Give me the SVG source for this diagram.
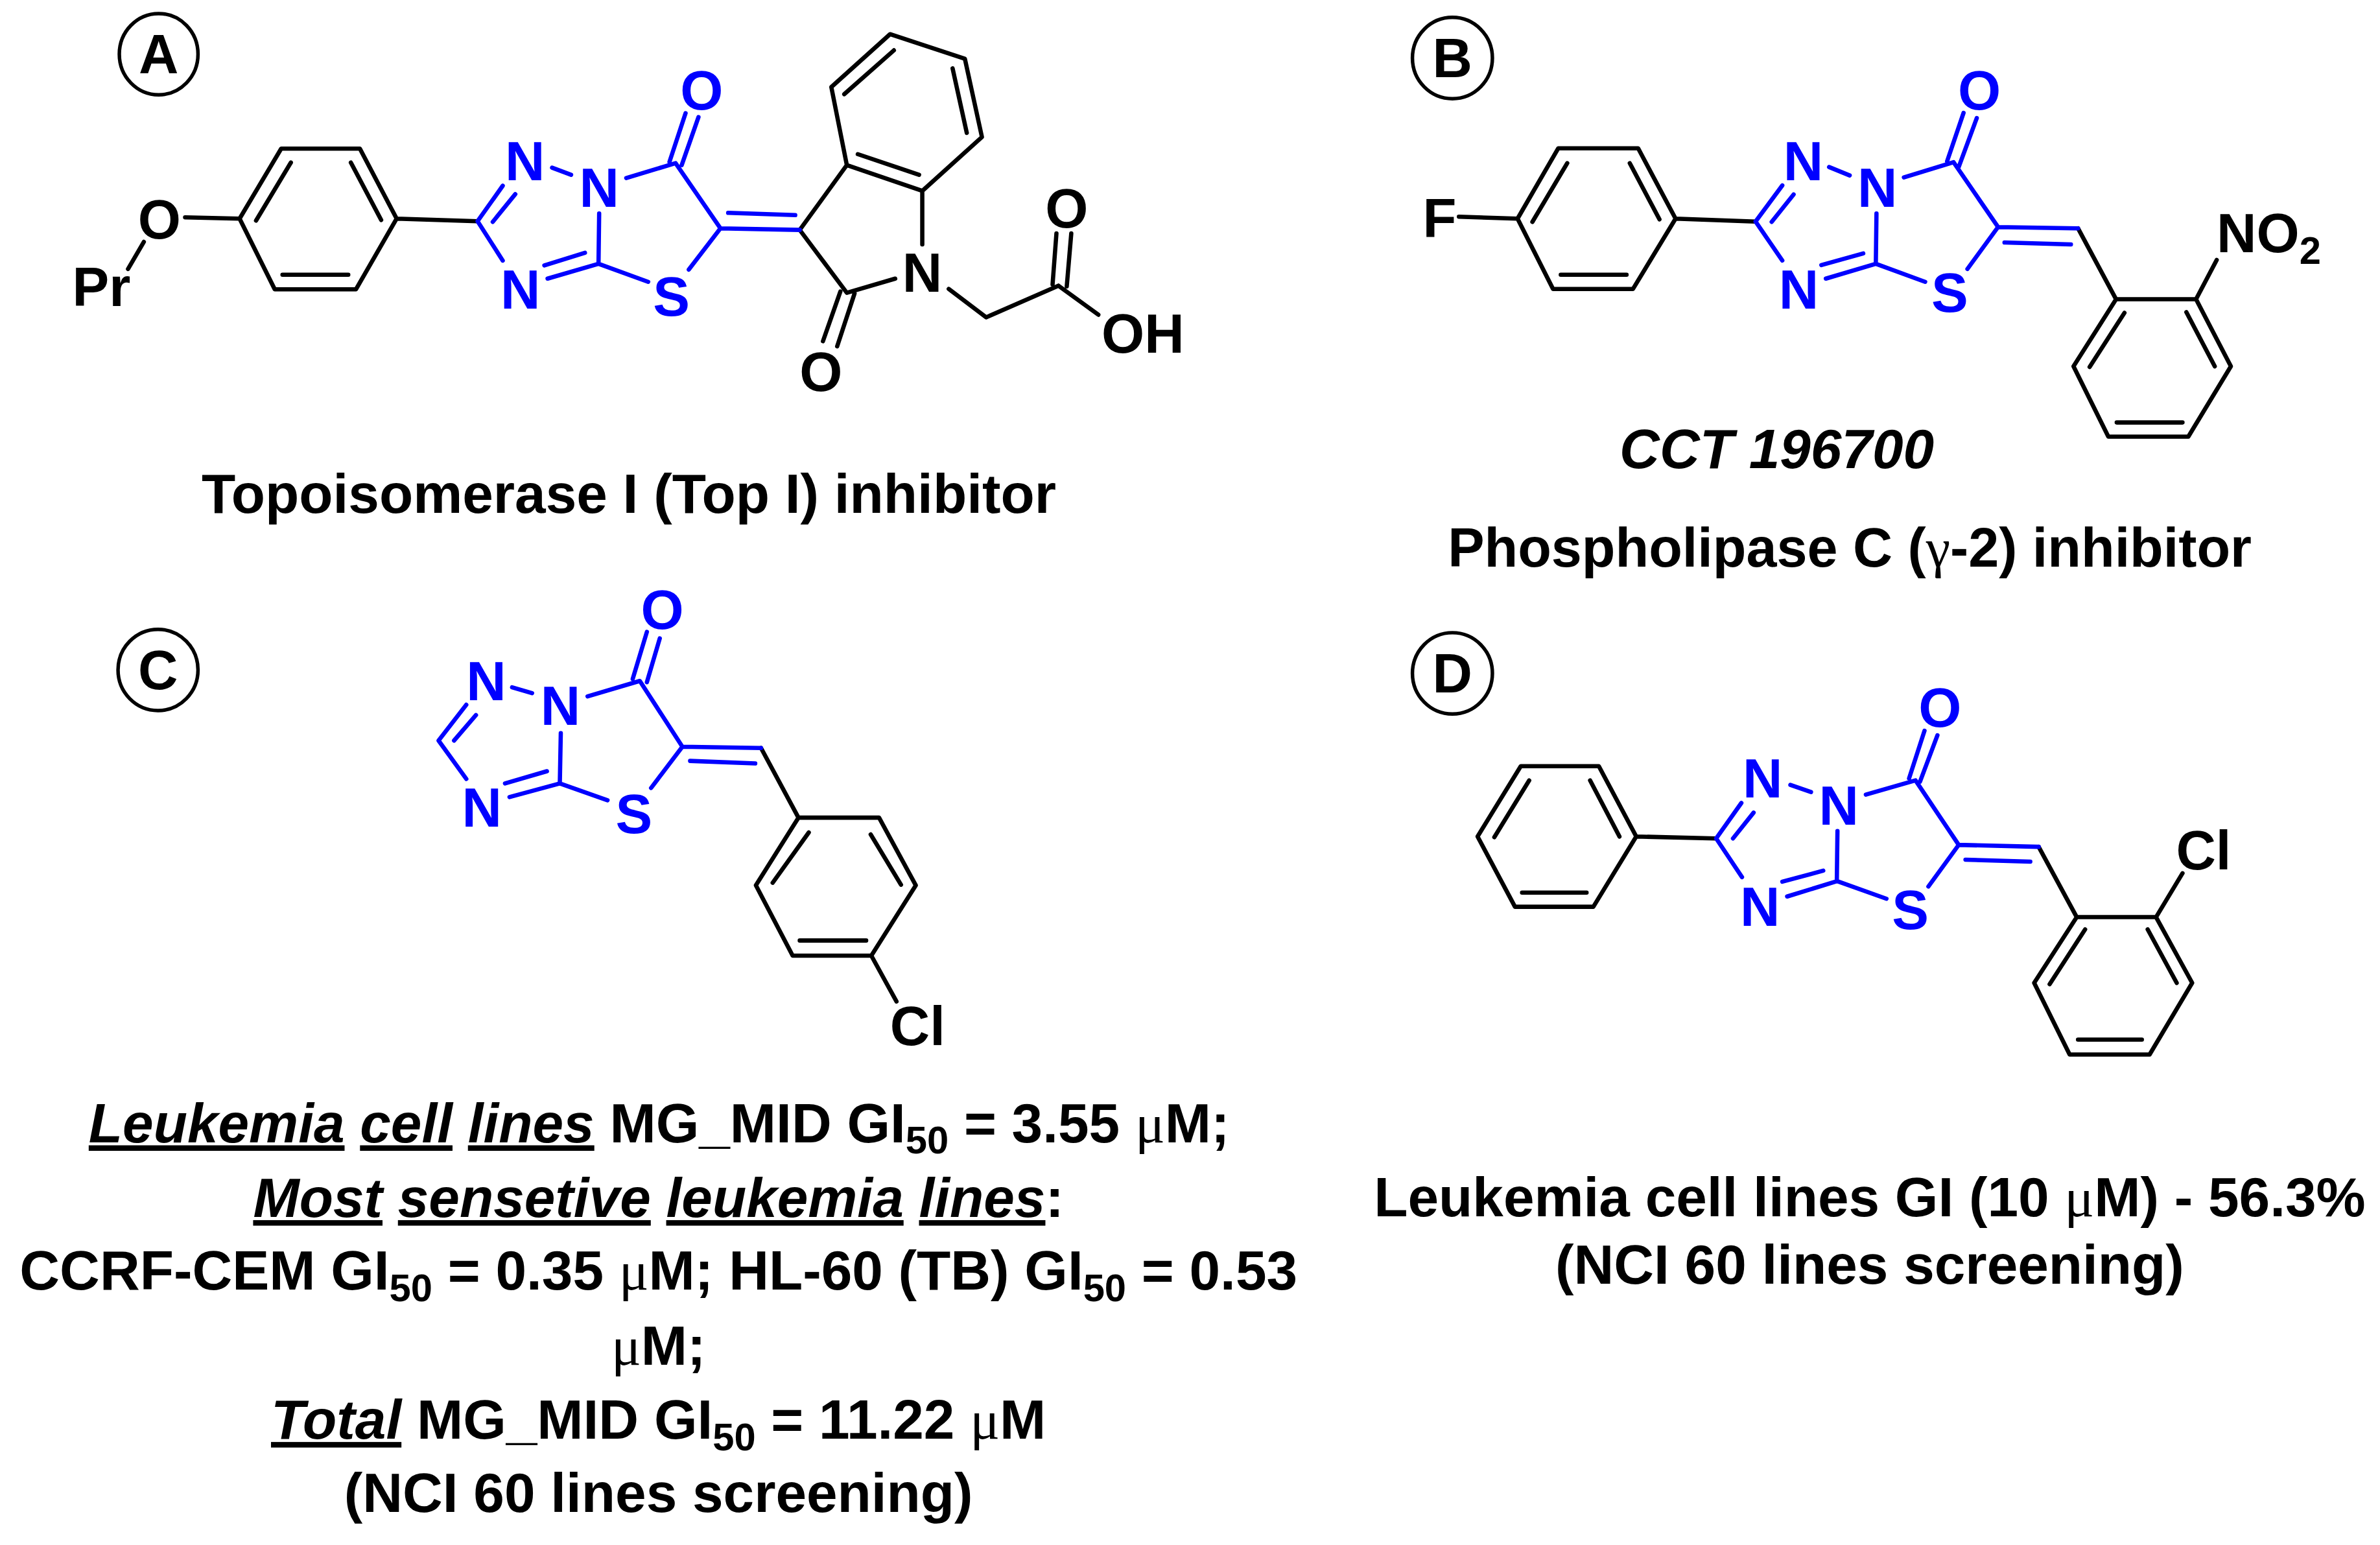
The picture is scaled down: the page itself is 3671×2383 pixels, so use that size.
<svg xmlns="http://www.w3.org/2000/svg" width="3671" height="2383" viewBox="0 0 3671 2383">
<style>
text{font-family:"Liberation Sans",Arial,sans-serif;font-weight:700;font-size:85.5px;fill:#000}
.c{text-anchor:middle}
.b{fill:#0000ff}
.cap{font-size:86px}
.i{font-style:italic}
.u{font-style:italic;text-decoration:underline}
.m{font-family:"Liberation Serif","DejaVu Serif",serif;font-weight:400}
.s{font-size:60px}
.k{fill:none;stroke:#000;stroke-width:6.6;stroke-linecap:round;stroke-linejoin:round}
.l{fill:none;stroke:#0000ff;stroke-width:6.6;stroke-linecap:round;stroke-linejoin:round}
.o{fill:none;stroke:#000;stroke-width:5.5}
</style>
<rect width="3671" height="2383" fill="#fff"/>

<g id="panel-a" transform="scale(.9948)">
<ellipse class="o" cx="246" cy="84" rx="61" ry="63"/>
<text class="c" x="246" y="114">A</text>
<g id="bonds-a">
<path class="k" d="M436 230.5H558L615 339L552 448.5H426L371.5 339ZM451 252L397 342M544 252L591 341M438 426H540M287 337L371.5 339M223 375L198.5 417M615 339L740.5 343M1240 356.5L1313 256L1289 135L1380 53L1496 91L1522.5 212.5L1430 296L1313 256M1309 146L1386 78M1477 106L1499 206M1330 239L1425 271M1430 296V379M1388 432L1313 454L1240 356.5M1303 452L1276 529M1325 455L1298 537M1471 448L1529 492L1641 443M1638 362L1632 441M1661 362L1654 444M1641 443L1703 488"/>
<path class="l" d="M740.5 343L779.5 288M764 344L799 301M856 260L885.5 271M740.5 343L779.5 404M849 432L928 409M844 411.5L907 392M929 331L928 409L1005 437M1068 418L1117 354M971 276L1047.5 253L1117 354M1038 251L1063 175.5M1057 256L1083 181.5M1117 354L1240 356.5M1129 330L1233 333.5"/>
</g>
<text class="c" x="247" y="370">O</text>
<text x="112" y="474">Pr</text>
<text class="c b" x="814" y="279">N</text>
<text class="c b" x="929" y="321">N</text>
<text class="c b" x="807" y="478">N</text>
<text class="c b" x="1041" y="490">S</text>
<text class="c b" x="1088" y="170">O</text>
<text class="c" x="1430" y="452">N</text>
<text class="c" x="1273" y="606">O</text>
<text class="c" x="1654" y="353">O</text>
<text x="1708" y="547">OH</text>
<text class="c cap" x="975" y="795">Topoisomerase I (Top I) inhibitor</text>
</g>

<g id="panel-b" transform="translate(10.92 0) scale(.9948)">
<ellipse class="o" cx="2241" cy="90" rx="62" ry="63"/>
<text class="c" x="2241" y="120">B</text>
<g id="bonds-b">
<path class="k" d="M2405 230H2529L2587 339L2521 448H2397L2342 339ZM2419 253L2365 344M2516 253L2562 340M2409 426H2511M2251 336L2342 339M2587 339L2711 343.5M3211 354L3270 464H3394L3448 568L3382 677H3258L3204 568L3270 464M3283 485L3229 569M3379 484L3423 568M3271 655H3373M3394 464L3426 403"/>
<path class="l" d="M2711 343.5L2752.5 287.5M2736 344L2770 301.5M2825 259L2857 272M2711 343.5L2752.5 404M2820 432L2897.5 409M2813 411L2878 393M2898.5 331L2897.5 409L2974 437M3039.5 417L3087 352M2941 275L3018 251.5L3087 352M3008 250L3033.5 175M3026 259L3054 183M3087 352L3211 354M3097 376L3200 379"/>
</g>
<text x="2195" y="368">F</text>
<text class="c b" x="2785" y="279">N</text>
<text class="c b" x="2900" y="321">N</text>
<text class="c b" x="2778" y="478">N</text>
<text class="c b" x="3012" y="484">S</text>
<text class="c b" x="3058" y="170">O</text>
<text x="3426" y="391">NO<tspan class="s" dy="18">2</tspan></text>
<text class="c cap i" x="2744" y="726">CCT 196700</text>
<text class="c cap" x="2857" y="879" style="font-size:85px">Phospholipase C (<tspan class="m">γ</tspan>-2) inhibitor</text>
</g>

<g id="panel-c" transform="translate(0 5.7) scale(.9948)">
<ellipse class="o" cx="245" cy="1033" rx="62" ry="63"/>
<text class="c" x="245" y="1063">C</text>
<g id="bonds-c">
<path class="k" d="M1180 1154L1238 1262H1363L1420 1367L1351 1476H1229L1172 1367L1238 1262M1254 1285L1198 1363M1350 1288L1397 1366M1240 1452.5H1343M1351 1476L1390 1547"/>
<path class="l" d="M981 1047L1003 974M1003 1052L1023 984M794 1060L825 1069M911 1074L992 1050L1058 1152M723 1087L680 1142.5L723 1202M704 1142.5L738 1103M790 1230L868 1209M783 1209L848 1190M869.5 1131L868 1209L942 1235M1009.5 1216L1058 1152L1180 1154M1070 1174L1171 1178"/>
</g>
<text class="c b" x="1027" y="969">O</text>
<text class="c b" x="869" y="1118">N</text>
<text class="c b" x="754" y="1080">N</text>
<text class="c b" x="747" y="1276">N</text>
<text class="c b" x="983" y="1286">S</text>
<text x="1380" y="1615">Cl</text>
<text class="c cap" x="1022" y="1765"><tspan class="u">Leukemia</tspan> <tspan class="u">cell</tspan> <tspan class="u">lines</tspan> MG_MID GI<tspan class="s" dy="18">50</tspan><tspan dy="-18"> = 3.55 </tspan><tspan class="m">μ</tspan>M;</text>
<text class="c cap" x="1021" y="1881"><tspan class="u">Most</tspan> <tspan class="u">sensetive</tspan> <tspan class="u">leukemia</tspan> <tspan class="u">lines</tspan>:</text>
<text class="c cap" x="1021" y="1994">CCRF-CEM GI<tspan class="s" dy="18">50</tspan><tspan dy="-18"> = 0.35 </tspan><tspan class="m">μ</tspan>M; HL-60 (TB) GI<tspan class="s" dy="18">50</tspan><tspan dy="-18"> = 0.53</tspan></text>
<text class="c cap" x="1021" y="2110"><tspan class="m">μ</tspan>M;</text>
<text class="c cap" x="1021" y="2225"><tspan class="u">Total</tspan> MG_MID GI<tspan class="s" dy="18">50</tspan><tspan dy="-18"> = 11.22 </tspan><tspan class="m">μ</tspan>M</text>
<text class="c cap" x="1021" y="2338">(NCI 60 lines screening)</text>
</g>

<g id="panel-d" transform="translate(10.92 4.94) scale(.9948)">
<ellipse class="o" cx="2241" cy="1039" rx="62" ry="63"/>
<text class="c" x="2241" y="1069">D</text>
<g id="bonds-d">
<path class="k" d="M2347 1183H2468L2526 1292L2459.5 1401H2338L2280 1292ZM2360 1205L2306 1293M2454.5 1205L2500 1292M2349 1379H2449M2526 1292L2650 1295M3150 1308L3209 1417H3332L3388 1519L3322 1630H3198L3143 1519L3209 1417M3222 1436L3167 1521M3319 1436L3364 1519M3211 1607H3310M3332 1417L3373 1349"/>
<path class="l" d="M2650 1295L2689 1240M2676 1295L2708 1255M2765 1212L2797 1223M2650 1295L2690 1355M2760 1385L2838 1361M2752.5 1362L2816 1345M2838 1283.5L2837 1361L2914 1388.5M2979 1369.5L3026 1305M2882 1227L2959 1205L3026 1305M2949 1202L2973 1128M2966 1207L2993 1135M3026 1305L3150 1308M3036.5 1328L3137 1331"/>
</g>
<text class="c b" x="2997" y="1122">O</text>
<text class="c b" x="2722" y="1231">N</text>
<text class="c b" x="2840" y="1274">N</text>
<text class="c b" x="2718" y="1430">N</text>
<text class="c b" x="2951" y="1436">S</text>
<text x="3363" y="1343">Cl</text>
<text class="c cap" x="2888" y="1881">Leukemia cell lines GI (10 <tspan class="m">μ</tspan>M) - 56.3%</text>
<text class="c cap" x="2888" y="1985">(NCI 60 lines screening)</text>
</g>
</svg>
